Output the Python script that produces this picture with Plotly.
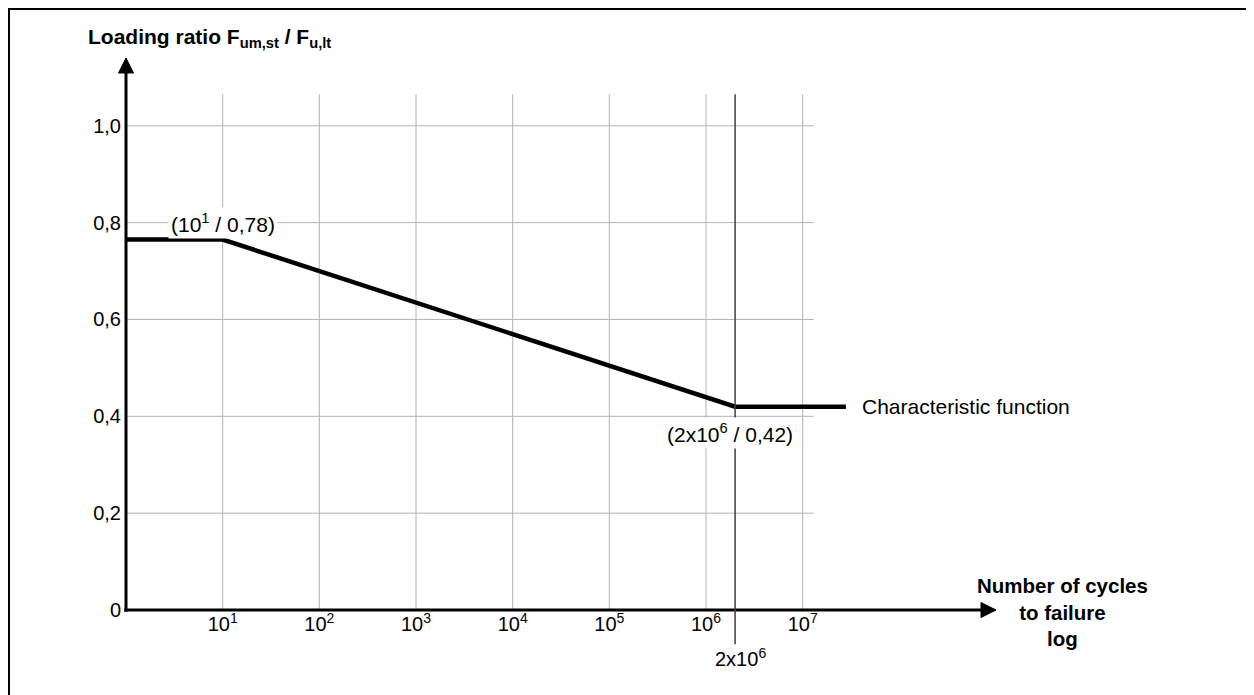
import numpy as np
import plotly.graph_objects as go

# ---------------- data ----------------
cycles = [1, 10, 2e6, 2.8e7]
loading_ratio = [0.765, 0.765, 0.42, 0.42]
series_name = "Characteristic function"

x_tick_cycles = [1e1, 1e2, 1e3, 1e4, 1e5, 1e6, 1e7]
x_tick_labels = ["10<sup>1</sup>", "10<sup>2</sup>", "10<sup>3</sup>", "10<sup>4</sup>",
                 "10<sup>5</sup>", "10<sup>6</sup>", "10<sup>7</sup>"]
y_tick_vals = [0, 0.2, 0.4, 0.6, 0.8, 1.0]
y_tick_labels = ["0", "0,2", "0,4", "0,6", "0,8", "1,0"]

marked_cycles = 2e6
marked_label = "2x10<sup>6</sup>"
point_labels = ["(10<sup>1</sup> / 0,78)", "(2x10<sup>6</sup> / 0,42)"]
point_label_cycles = [10, 2e6]
point_label_ratio = [0.80, 0.365]

y_title = "<b>Loading ratio F<sub>um,st</sub> / F<sub>u,lt</sub></b>"
x_title = "<b>Number of cycles<br>to failure<br>log</b>"

# ---------------- style ----------------
FONT = "Liberation Sans, Arial, sans-serif"
FS_TICK = 20
FS_TEXT = 21
X_RANGE = [0, 9.0]
Y_RANGE = [0, 1.14]
GRID_X_END = np.log10(1.3e7)
GRID_Y_TOP = 1.065
GRID_COLOR = "#b4b4b4"
ML, MR, MT, MB = 118, 266, 50, 93

lx = np.log10

fig = go.Figure()
fig.add_trace(go.Scatter(
    x=lx(cycles), y=loading_ratio, mode="lines", name=series_name,
    line=dict(color="black", width=4.5), showlegend=False, hoverinfo="skip",
))

shapes = []
# grid lines (limited extent)
for xv in lx(x_tick_cycles):
    shapes.append(dict(type="line", xref="x", yref="y", x0=xv, x1=xv, y0=0, y1=GRID_Y_TOP,
                       line=dict(color=GRID_COLOR, width=1), layer="below"))
for yv in y_tick_vals[1:]:
    shapes.append(dict(type="line", xref="x", yref="y", x0=0, x1=GRID_X_END, y0=yv, y1=yv,
                       line=dict(color=GRID_COLOR, width=1), layer="below"))
# axis lines
shapes.append(dict(type="line", xref="paper", yref="paper", x0=-0.002, x1=0.99, y0=0, y1=0,
                   line=dict(color="black", width=3)))
shapes.append(dict(type="line", xref="paper", yref="paper", x0=0, x1=0, y0=-0.003, y1=0.985,
                   line=dict(color="black", width=3)))
# arrow heads
shapes.append(dict(type="path", xref="paper", yref="paper", xsizemode="pixel", ysizemode="pixel",
                   xanchor=1, yanchor=0, path="M-15,-7.5 L0,0 L-15,7.5 Z",
                   fillcolor="black", line=dict(color="black", width=1)))
shapes.append(dict(type="path", xref="paper", yref="paper", xsizemode="pixel", ysizemode="pixel",
                   xanchor=0, yanchor=1, path="M-7.5,-15 L0,0 L7.5,-15 Z",
                   fillcolor="black", line=dict(color="black", width=1)))
# outer frame along the figure's top and left edges
plot_h = 695 - MT - MB
shapes.append(dict(type="rect", xref="paper", yref="paper", xsizemode="pixel", ysizemode="pixel",
                   xanchor=0, yanchor=0, x0=-ML + 0.5, x1=1300, y0=-300, y1=plot_h + MT - 0.5,
                   line=dict(color="black", width=3), fillcolor="rgba(0,0,0,0)", layer="below"))

annotations = []
# vertical marker line at 2x10^6 extending below the axis
annotations.append(dict(x=lx(marked_cycles), y=GRID_Y_TOP, xref="x", yref="y",
                        ax=lx(marked_cycles), ay=-0.074, axref="x", ayref="y",
                        text="", showarrow=True, arrowhead=0, arrowwidth=1.5,
                        arrowcolor="#404040", standoff=0, startstandoff=0))
annotations.append(dict(x=lx(marked_cycles), y=0, xref="x", yref="y", yshift=-47, xshift=5,
                        text=marked_label, showarrow=False,
                        font=dict(family=FONT, size=FS_TICK, color="black")))
# point labels with white background
for lab, cx, cy, xs in zip(point_labels, point_label_cycles, point_label_ratio, [0, -5]):
    annotations.append(dict(x=lx(cx), y=cy, xref="x", yref="y", xshift=xs, text=lab,
                            showarrow=False, bgcolor="white", borderpad=2,
                            font=dict(family=FONT, size=FS_TEXT, color="black")))
# series label
annotations.append(dict(x=lx(cycles[-1]), y=loading_ratio[-1], xref="x", yref="y",
                        xanchor="left", xshift=14, text=series_name, showarrow=False,
                        font=dict(family=FONT, size=FS_TEXT, color="black")))
# axis titles
annotations.append(dict(x=0, y=1, xref="paper", yref="paper", xanchor="left", yanchor="bottom",
                        xshift=-40, yshift=5, text=y_title, showarrow=False,
                        font=dict(family=FONT, size=FS_TEXT, color="black")))
annotations.append(dict(x=1, y=0, xref="paper", yref="paper", xanchor="center", yanchor="middle",
                        xshift=66, yshift=-2, text=x_title, showarrow=False,
                        font=dict(family=FONT, size=20.5, color="black")))

fig.update_layout(
    width=1254, height=695,
    margin=dict(l=ML, r=MR, t=MT, b=MB),
    paper_bgcolor="white", plot_bgcolor="white",
    font=dict(family=FONT, size=FS_TICK, color="black"),
    shapes=shapes, annotations=annotations,
    xaxis=dict(range=X_RANGE, showgrid=False, zeroline=False, showline=False,
               tickvals=lx(x_tick_cycles), ticktext=x_tick_labels, ticks="",
               tickfont=dict(family=FONT, size=FS_TICK, color="black")),
    yaxis=dict(range=Y_RANGE, showgrid=False, zeroline=False, showline=False,
               tickvals=y_tick_vals, ticktext=y_tick_labels, ticks="",
               ticklabelstandoff=4,
               tickfont=dict(family=FONT, size=FS_TICK, color="black")),
)

fig.write_html("out.html")
